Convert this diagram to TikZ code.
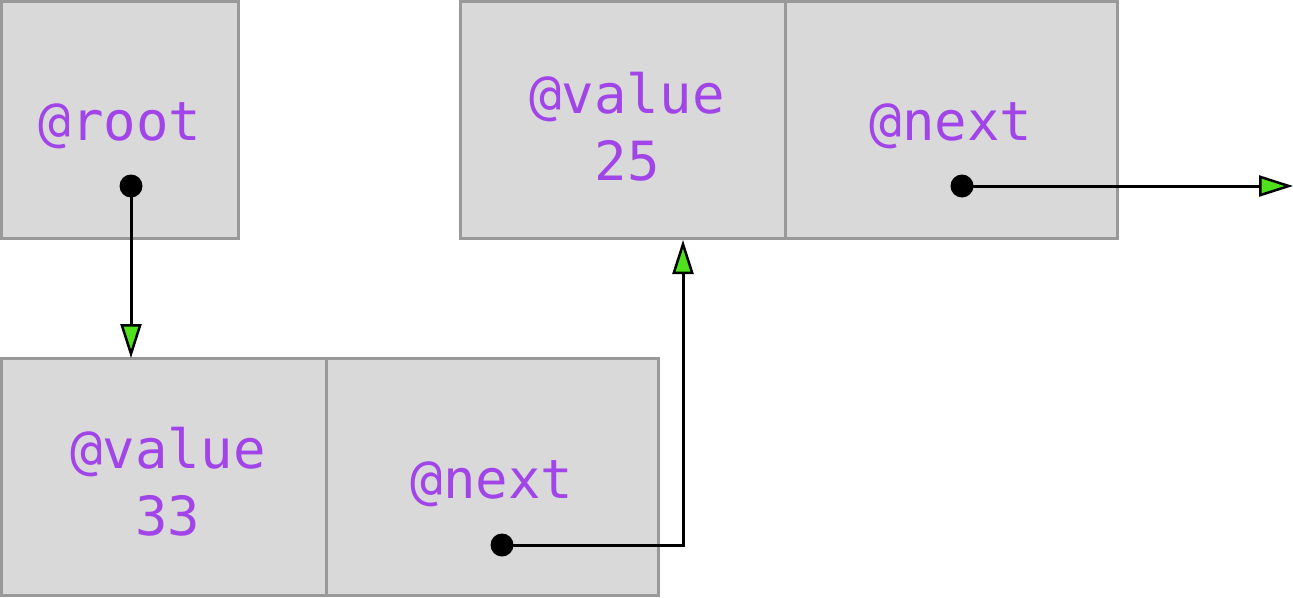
\documentclass[tikz,border=0pt]{standalone}
\usepackage{fontspec}
\setmonofont{DejaVu Sans Mono}
\usetikzlibrary{arrows.meta}
\definecolor{boxfill}{HTML}{D9D9D9}
\definecolor{boxline}{HTML}{999999}
\definecolor{txt}{HTML}{A245E8}
\definecolor{tipgreen}{HTML}{4FE21C}
\tikzset{
  cell/.style={draw=boxline,fill=boxfill,line width=3pt,inner sep=0pt,
    minimum height=237pt},
  lbl/.style={inner sep=0pt,align=center,text=txt,
    font=\ttfamily\fontsize{54}{67}\selectfont},
  dotnode/.style={circle,fill=black,inner sep=0pt,minimum size=23pt},
  ptr/.style={line width=3pt,-{Triangle[length=34pt,width=21pt,fill=tipgreen,line width=2.5pt]}},
}
\begin{document}
\begin{tikzpicture}[x=1pt,y=-1pt]
\useasboundingbox (0,0) rectangle (1293,597);
% root
\node[cell,minimum width=237pt] (root) at (119.5,119.5) {};
\node[lbl] (rootl) at (120,126) {@root};
% top node
\node[cell,minimum width=325pt] (tv) at (622.5,119.5) {};
\node[cell,minimum width=332pt] (tn) at (951,119.5) {};
\node[lbl] (tvl) at (627,127) {@value\\25};
\node[lbl] (tnl) at (951,126) {@next};
% bottom node
\node[cell,minimum width=325pt] (bv) at (163.5,476.5) {};
\node[cell,minimum width=332pt] (bn) at (492,476.5) {};
\node[lbl] (bvl) at (168,482) {@value\\33};
\node[lbl] (bnl) at (492,484) {@next};
% dots
\node[dotnode] (rd) at (131,186) {};
\node[dotnode] (td) at (962,186) {};
\node[dotnode] (bd) at (502,545) {};
\coordinate (bend) at (683,545);
\coordinate (tin) at (683,240);
\coordinate (rin) at (131,358);
\coordinate (out) at (1293,186);
% pointers
\draw[ptr] (rd.center) -- (rin);
\draw[ptr] (bd.center) -- (bend) -- (tin);
\draw[ptr] (td.center) -- (out);
\end{tikzpicture}
\end{document}
